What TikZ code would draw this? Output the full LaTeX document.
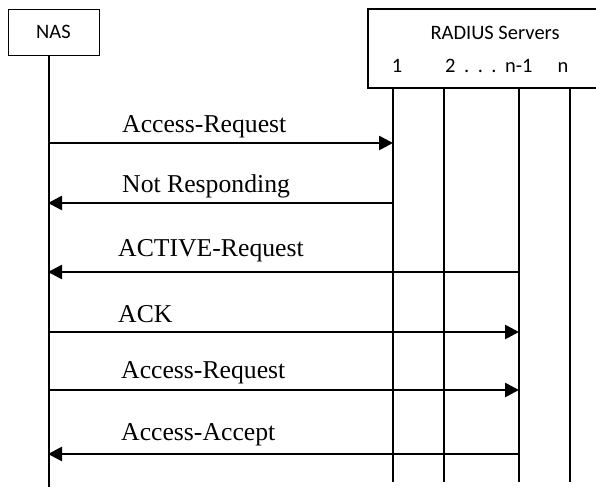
\documentclass[tikz,border=0pt]{standalone}
\usepackage{fontspec}
\setmainfont{Liberation Serif}
\newfontfamily\boxfont{Carlito}
\usetikzlibrary{arrows.meta}
\begin{document}
\begin{tikzpicture}[x=1pt,y=-1pt,
  lifeline/.style={line width=1.6pt},
  msg/.style={line width=2.6pt,-{Triangle[length=14pt,width=14pt]}},
  msglabel/.style={anchor=base west,inner sep=0pt,font=\fontsize{25.7}{30}\selectfont},
  boxlabel/.style={inner sep=0pt,font=\boxfont\fontsize{20.5}{24}\selectfont},
  actor/.style={draw,line width=1.2pt}]
\useasboundingbox (0,0) rectangle (596,487);

% NAS header box
\node[actor,minimum width=91pt,minimum height=46pt,anchor=north west] (nasbox) at (8,9) {};
\node[boxlabel] (naslabel) at (53.5,32) {NAS};

% RADIUS header box, open towards the right
\draw[line width=1.2pt] (596,9) -- (368,9) -- (368,88) -- (596,88);
\node[boxlabel] (radlabel) at (495,33) {RADIUS Servers};
\node[boxlabel,anchor=base] (s1label) at (397,72) {1};
\node[boxlabel,anchor=base west] (s2label) at (445,72)
  {2\hspace{8.5pt}.\hspace{8.5pt}.\hspace{8.5pt}.\hspace{8.5pt}n-1};
\node[boxlabel,anchor=base] (snlabel) at (563,72) {n};

% lifeline end points
\coordinate (nasT) at (49,55);  \coordinate (nasB) at (49,487);
\coordinate (r1T) at (393,88);  \coordinate (r1B) at (393,482);
\coordinate (r2T) at (444,88);  \coordinate (r2B) at (444,482);
\coordinate (r3T) at (519,88);  \coordinate (r3B) at (519,482);
\coordinate (r4T) at (570,88);  \coordinate (r4B) at (570,482);
\draw[lifeline] (nasT) -- (nasB);
\draw[lifeline] (r1T) -- (r1B);
\draw[lifeline] (r2T) -- (r2B);
\draw[lifeline] (r3T) -- (r3B);
\draw[lifeline] (r4T) -- (r4B);

% message anchor points on the lifelines
\coordinate (n1) at (48,143); \coordinate (s1a) at (393,143);
\coordinate (n2) at (48,203); \coordinate (s1b) at (393,203);
\coordinate (n3) at (48,272); \coordinate (s3a) at (519,272);
\coordinate (n4) at (48,332); \coordinate (s3b) at (519,332);
\coordinate (n5) at (48,390); \coordinate (s3c) at (519,390);
\coordinate (n6) at (48,454); \coordinate (s3d) at (519,454);

% messages
\draw[msg] (n1) -- (s1a);
\node[msglabel] (m1) at (122,132) {Access-Request};
\draw[msg] (s1b) -- (n2);
\node[msglabel] (m2) at (122,192) {Not Responding};
\draw[msg] (s3a) -- (n3);
\node[msglabel] (m3) at (118,256) {ACTIVE-Request};
\draw[msg] (n4) -- (s3b);
\node[msglabel] (m4) at (118,322) {ACK};
\draw[msg] (n5) -- (s3c);
\node[msglabel] (m5) at (121,378) {Access-Request};
\draw[msg] (s3d) -- (n6);
\node[msglabel] (m6) at (121,440) {Access-Accept};
\end{tikzpicture}
\end{document}
